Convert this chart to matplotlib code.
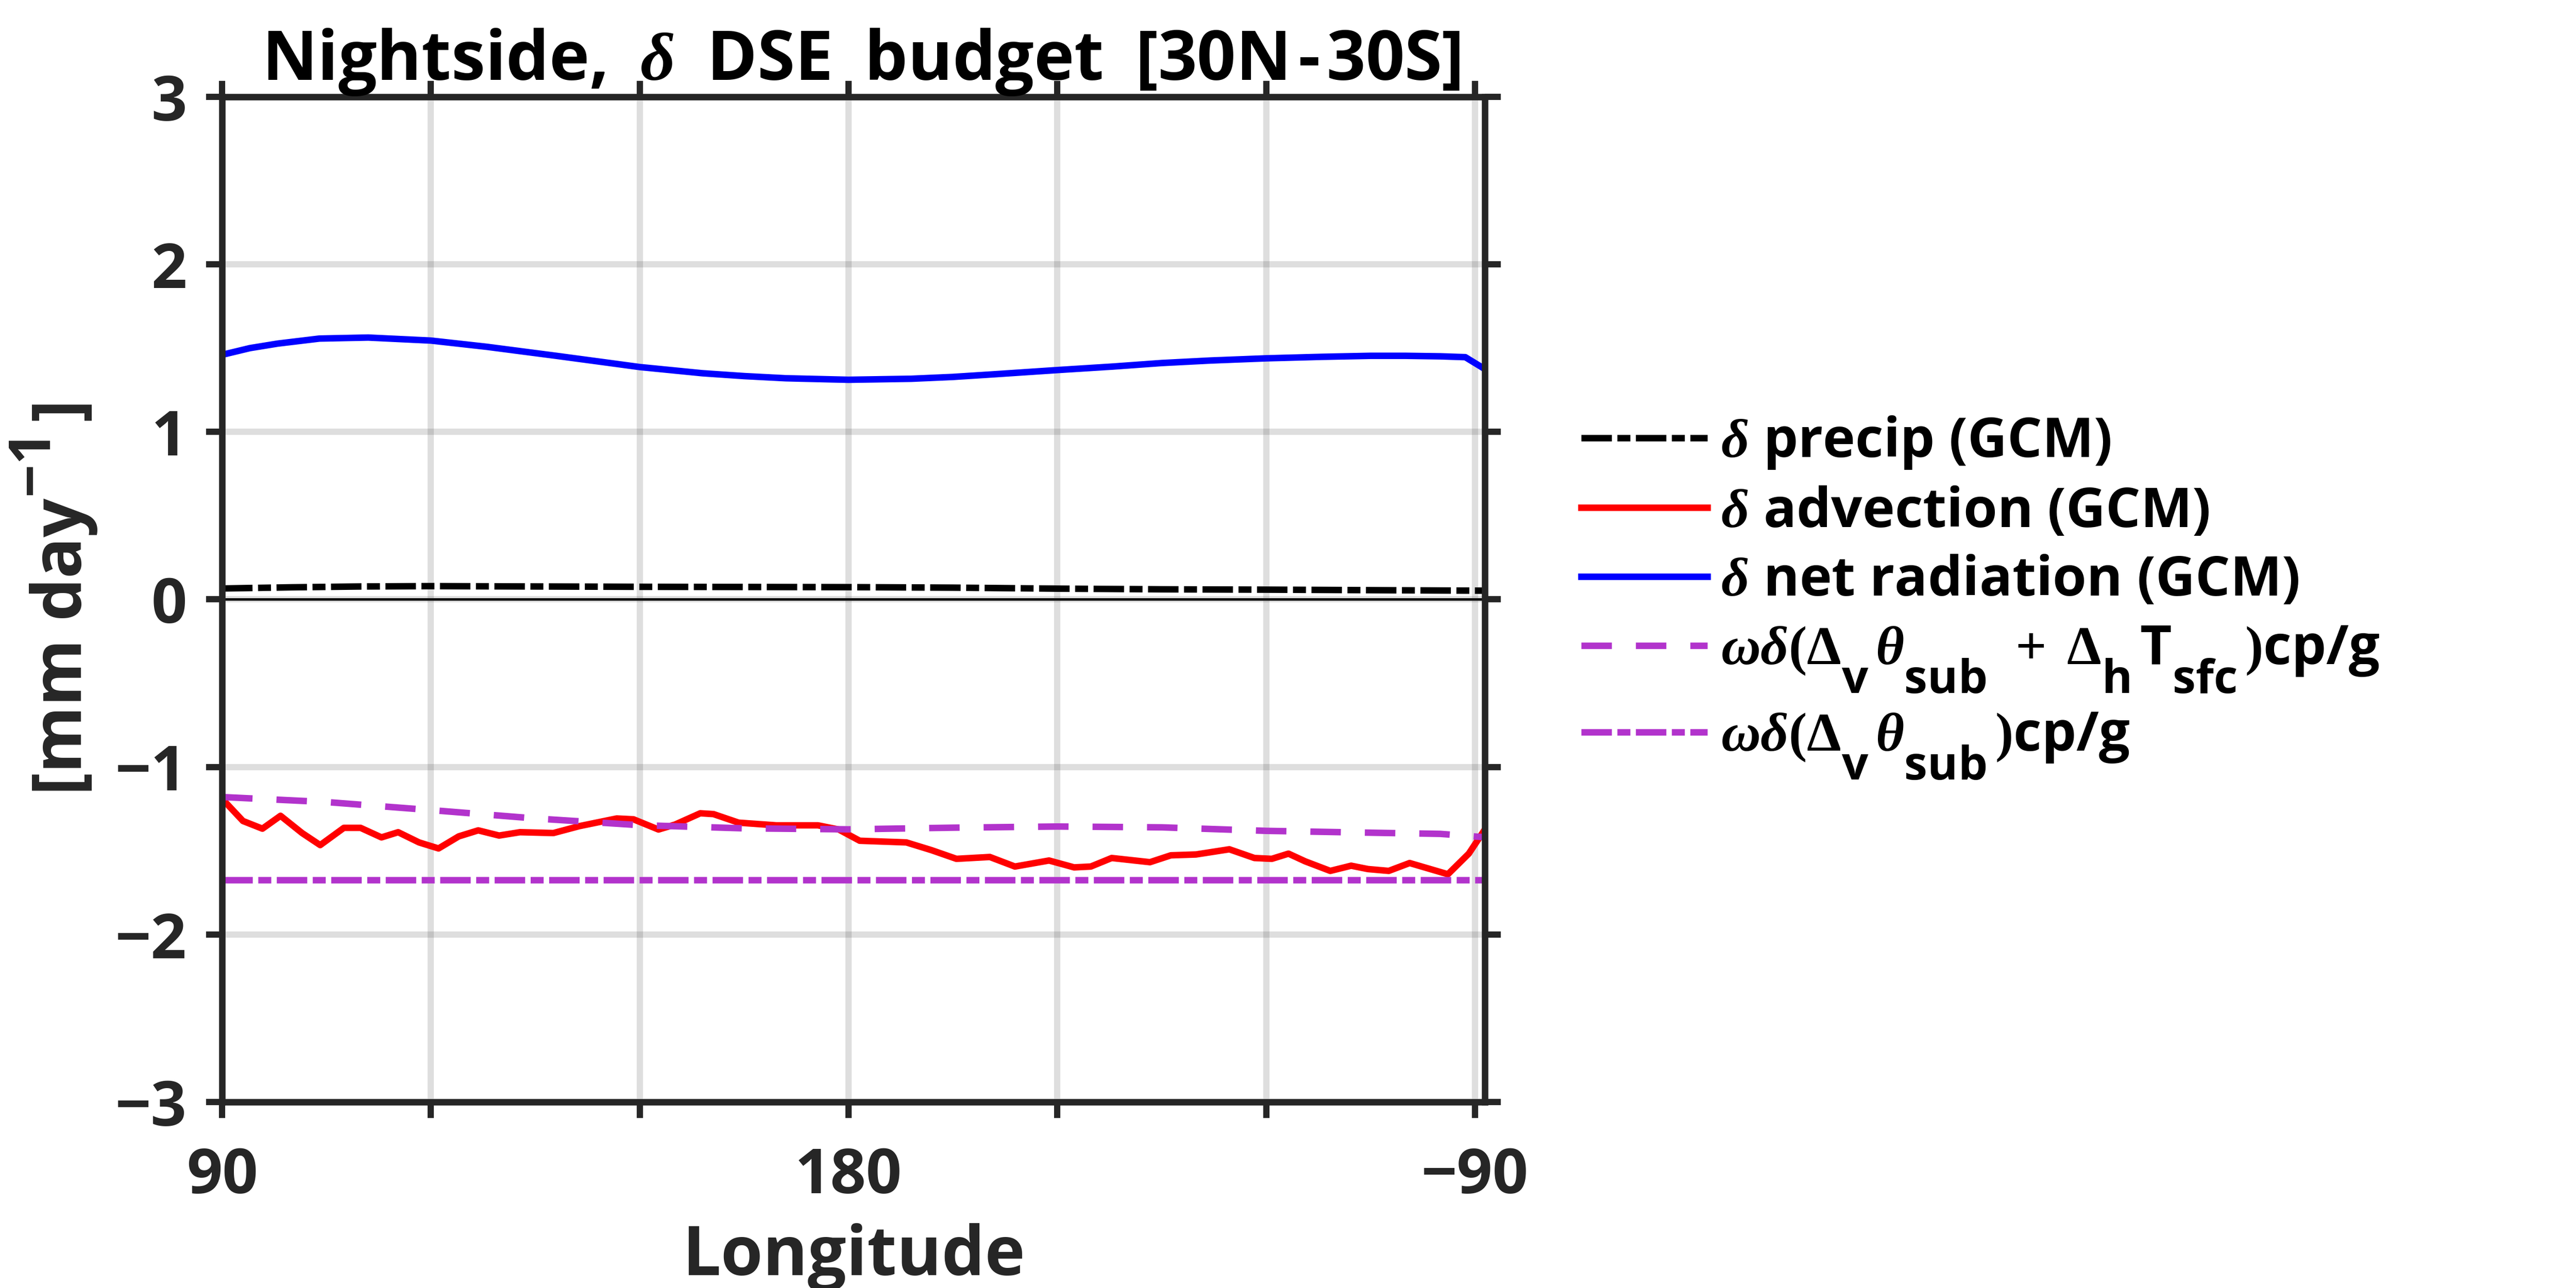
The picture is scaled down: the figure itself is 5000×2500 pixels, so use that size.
import matplotlib
matplotlib.use("Agg")
import matplotlib.pyplot as plt
import matplotlib._mathtext as mathtext_interno

# Fuentes: texto en negrita, letras griegas tipo Times
plt.rcParams['font.family'] = ['Open Sans', 'DejaVu Sans']
plt.rcParams['font.weight'] = 'bold'
plt.rcParams['mathtext.fontset'] = 'custom'
plt.rcParams['mathtext.rm'] = 'Liberation Serif'
plt.rcParams['mathtext.it'] = 'Liberation Serif:italic'
plt.rcParams['mathtext.bf'] = 'Open Sans:bold'

# Subindices casi del mismo tamano y mas bajos, como en el original
mathtext_interno.SHRINK_FACTOR = 0.85
mathtext_interno.FontConstantsBase.sub1 = 1.15
mathtext_interno.FontConstantsBase.sup1 = 1.0
mathtext_interno.FontConstantsBase.script_space = 0.3

# Datos (longitud en grados, valores en mm/dia)
lon_precip = [90, 100, 110, 120, 135, 150, 165, 180, 195, 210, 225, 240, 255, 265, 271.4]
precip = [0.065, 0.072, 0.077, 0.079, 0.077, 0.075, 0.074, 0.073, 0.070, 0.064,
          0.060, 0.058, 0.055, 0.053, 0.052]

lon_adv = [90, 93.0, 95.8, 98.4, 101.5, 104.1, 107.5, 109.9, 112.9, 115.3, 118.3,
           121.1, 124.0, 126.8, 129.8, 132.8, 137.6, 141.3, 146.7, 149.1, 152.7,
           155.1, 158.7, 160.6, 164.2, 169.6, 175.6, 178.6, 181.6, 188.3, 191.9,
           195.5, 200.3, 203.9, 208.8, 212.4, 214.8, 217.8, 223.3, 226.3, 229.9,
           234.7, 238.3, 240.8, 243.2, 245.6, 249.2, 252.2, 254.6, 257.6, 260.6,
           266.1, 269.1, 271.4]
adv = [-1.190, -1.323, -1.369, -1.292, -1.395, -1.467, -1.364, -1.364, -1.421,
       -1.390, -1.451, -1.487, -1.415, -1.379, -1.410, -1.390, -1.395, -1.354,
       -1.308, -1.313, -1.374, -1.344, -1.277, -1.282, -1.333, -1.349, -1.349,
       -1.374, -1.441, -1.451, -1.497, -1.549, -1.538, -1.595, -1.559, -1.600,
       -1.595, -1.544, -1.569, -1.528, -1.523, -1.492, -1.544, -1.549, -1.518,
       -1.564, -1.621, -1.590, -1.610, -1.621, -1.574, -1.641, -1.518, -1.374]

lon_rad = [90, 94, 98, 104, 111, 120, 128, 138, 145, 150, 159, 165, 171, 180,
           189, 195, 201, 210, 218, 225, 232, 240, 248, 255, 260, 265, 268.6, 271.4]
rad = [1.460, 1.500, 1.527, 1.557, 1.563, 1.545, 1.508, 1.454, 1.415, 1.387,
       1.350, 1.333, 1.320, 1.311, 1.317, 1.328, 1.344, 1.369, 1.390, 1.411,
       1.426, 1.439, 1.448, 1.454, 1.454, 1.451, 1.446, 1.375]

lon_omega = [90, 105, 120, 135, 150, 165, 180, 195, 210, 225, 240, 255, 265, 271.4]
omega_full = [-1.180, -1.210, -1.258, -1.308, -1.348, -1.367, -1.373, -1.363,
              -1.356, -1.361, -1.382, -1.393, -1.400, -1.420]

lon_theta = [90, 271.4]
omega_theta = [-1.674, -1.674]

etiquetas = [r'$\delta$ precip (GCM)',
             r'$\delta$ advection (GCM)',
             r'$\delta$ net radiation (GCM)',
             r'$\omega\delta(\Delta_\mathbf{v}\theta_\mathbf{sub}\;+\;\Delta_\mathbf{h}\mathbf{T}_\mathbf{sfc})$cp/g',
             r'$\omega\delta(\Delta_\mathbf{v}\theta_\mathbf{sub})$cp/g']

titulo = 'Nightside,\u2009 $\\delta$ \u2009DSE \u2009budget \u2009[30N\u200a-\u200a30S]'

xticks = [90, 120, 150, 180, 210, 240, 270]
xticklabels = ['90', '', '', '180', '', '', '\u221290']
yticks = [-3, -2, -1, 0, 1, 2, 3]

gris = '#262626'
morado = '#B233CC'
lw = 2.9
punto_raya = (4.7, 0.85, 2.0, 0.85)
rayas = (4.7, 3.7)

fig = plt.figure(figsize=(16, 8))
ax = fig.add_axes([0.0862, 0.1445, 0.4902, 0.7803])

ax.axhline(0, color='k', linewidth=1.1, zorder=1.5)
ax.plot(lon_precip, precip, color='k', linewidth=lw, dashes=punto_raya, label=etiquetas[0])
ax.plot(lon_adv, adv, color='red', linewidth=lw, label=etiquetas[1])
ax.plot(lon_rad, rad, color='blue', linewidth=lw, label=etiquetas[2])
ax.plot(lon_omega, omega_full, color=morado, linewidth=lw, dashes=rayas, label=etiquetas[3])
ax.plot(lon_theta, omega_theta, color=morado, linewidth=lw, dashes=punto_raya, label=etiquetas[4])

ax.set_xlim(90, 271.4)
ax.set_ylim(-3, 3)
ax.set_xticks(xticks)
ax.set_xticklabels(xticklabels)
ax.set_yticks(yticks)
ax.grid(True, color=gris, alpha=0.15, linewidth=2.8)

for lado in ax.spines.values():
    lado.set_linewidth(2.9)
    lado.set_color(gris)

ax.tick_params(which='both', direction='out', length=7.2, width=2.8, top=True,
               right=True, color=gris, labelcolor=gris, labelsize=28)
ax.tick_params(axis='x', pad=12.4)
ax.tick_params(axis='y', pad=8.5)

ax.set_xlabel('Longitude', fontsize=30.5, color=gris, fontweight='bold')
ax.xaxis.set_label_coords(0.5, -0.1206)
ax.set_ylabel(r'[mm day$^{\mathbf{-1}}$]', fontsize=30.5, color=gris, fontweight='bold')
ax.yaxis.set_label_coords(-0.097, 0.5)

ax.text(0.506, 1.0169, titulo, transform=ax.transAxes,
        ha='center', va='baseline', fontsize=30.5, fontweight='bold', color='k')

leg = fig.legend(loc='upper left', bbox_to_anchor=(0.6138, 0.6784), frameon=False,
                 fontsize=24.5, handlelength=2.3, handletextpad=0.25, labelspacing=0.26,
                 borderpad=0, borderaxespad=0)

fig.savefig('out.png', dpi=312.5)
